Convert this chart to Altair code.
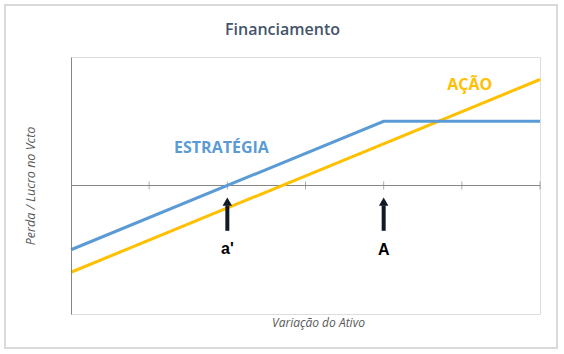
import altair as alt
import pandas as pd

# Data
estrategia_x = [0, 4, 6]
estrategia_y = [-2.0, 2.0, 2.0]
acao_x = [0, 6]
acao_y = [-2.7, 3.3]
tick_x = [1, 2, 3, 4, 5, 6]
arrow_x = [2, 4]
arrow_bottom = [-1.41, -1.41]
arrow_top = [-0.62, -0.62]
arrow_tip = [-0.5, -0.5]
marker_labels = ["a'", "A"]
marker_label_y = [-1.98, -2.0]
series_labels = ["ESTRATÉGIA", "AÇÃO"]
series_label_x = [1.925, 5.1]
series_label_y = [1.17, 3.13]
series_colors = ["#5b9bd5", "#ffc000"]

FONT = "Open Sans"

xs = alt.Scale(domain=[0, 6], nice=False, zero=False)
ys = alt.Scale(domain=[-4, 4], nice=False, zero=False)

df_est = pd.DataFrame({"x": estrategia_x, "y": estrategia_y})
df_acao = pd.DataFrame({"x": acao_x, "y": acao_y})
df_ticks = pd.DataFrame({"x": tick_x, "y": [0] * len(tick_x)})
df_zero = pd.DataFrame({"x": [0], "x2": [6], "y": [0]})
df_arrow = pd.DataFrame({"x": arrow_x, "y": arrow_bottom, "y2": arrow_top,
                         "tip": arrow_tip, "label": marker_labels,
                         "ly": marker_label_y})
df_lab = pd.DataFrame({"label": series_labels, "x": series_label_x,
                       "y": series_label_y, "c": series_colors})

frame = alt.Chart(alt.Data(values=[{}])).mark_rect(
    fillOpacity=0, stroke="#d9d9d9", strokeWidth=2
).encode(
    x=alt.value(-66), x2=alt.value(486), y=alt.value(-52), y2=alt.value(291)
)

base_axes = alt.Chart(df_zero).mark_rule(color="#868686", strokeWidth=1).encode(
    x=alt.X("x:Q", scale=xs, axis=alt.Axis(
        title="Variação do Ativo", domain=False, ticks=False, labels=False,
        grid=False, titleFont=FONT, titleFontStyle="italic",
        titleFontWeight="normal", titleFontSize=12, titleColor="#595959",
        titlePadding=3, titleX=247, zindex=1)),
    x2="x2:Q",
    y=alt.Y("y:Q", scale=ys, axis=alt.Axis(
        title="Perda / Lucro no Vcto", domain=True, domainColor="#868686",
        ticks=False, labels=False, grid=False, titleFont=FONT,
        titleFontStyle="italic", titleFontWeight="normal", titleFontSize=12.5,
        titleColor="#595959", titlePadding=34, zindex=1)),
)

ticks = alt.Chart(df_ticks).mark_tick(
    orient="vertical", color="#868686", thickness=1, size=8
).encode(x=alt.X("x:Q", scale=xs), y=alt.Y("y:Q", scale=ys))

line_est = alt.Chart(df_est).mark_line(color="#5b9bd5", strokeWidth=3).encode(
    x=alt.X("x:Q", scale=xs), y=alt.Y("y:Q", scale=ys))
line_acao = alt.Chart(df_acao).mark_line(color="#ffc000", strokeWidth=3).encode(
    x=alt.X("x:Q", scale=xs), y=alt.Y("y:Q", scale=ys))

arrow_shaft = alt.Chart(df_arrow).mark_rule(color="#111827", strokeWidth=4).encode(
    x=alt.X("x:Q", scale=xs), y=alt.Y("y:Q", scale=ys), y2="y2:Q")
arrow_head = alt.Chart(df_arrow).mark_point(
    shape="triangle-up", filled=True, color="#111827", size=90, opacity=1
).encode(x=alt.X("x:Q", scale=xs), y=alt.Y("tip:Q", scale=ys))
arrow_text = alt.Chart(df_arrow).mark_text(
    font="Liberation Sans", fontWeight="bold", fontSize=16, color="#000000",
    baseline="middle"
).encode(x=alt.X("x:Q", scale=xs), y=alt.Y("ly:Q", scale=ys), text="label:N")

series_text = alt.Chart(df_lab).mark_text(
    font=FONT, fontWeight="bold", fontSize=16, baseline="middle"
).encode(x=alt.X("x:Q", scale=xs), y=alt.Y("y:Q", scale=ys), text="label:N",
         color=alt.Color("c:N", scale=None))

chart = alt.layer(
    frame, base_axes, ticks, line_acao, line_est, arrow_shaft, arrow_head,
    arrow_text, series_text
).properties(
    width=469, height=257,
    title=alt.TitleParams("Financiamento", font=FONT, fontSize=16,
                          fontWeight=600, color="#44546a", dx=-23,
                          offset=17, dy=51, frame="group"),
    autosize=alt.AutoSizeParams(type="none"),
    padding={"left": 71, "top": 57, "right": 24, "bottom": 40},
).configure_view(stroke=None).configure(background="white")

chart.save("out.html", embed_options={"renderer": "svg", "actions": False})
